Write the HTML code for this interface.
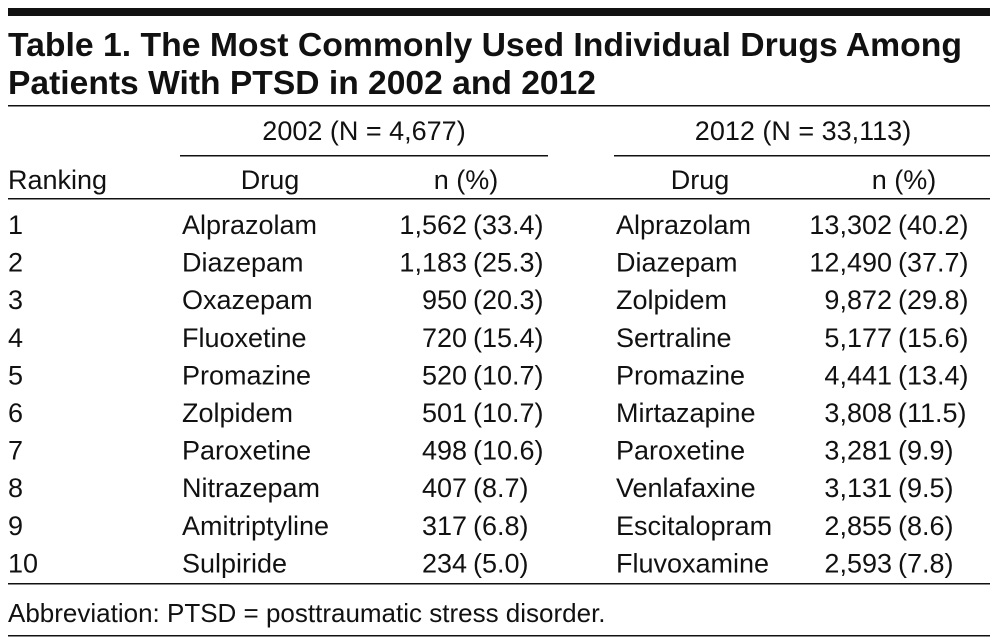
<!DOCTYPE html>
<html><head><meta charset="utf-8"><style>
html,body{margin:0;padding:0;background:#fff;}
svg{display:block;font-family:"Liberation Sans",sans-serif;}
</style></head><body>
<svg width="998" height="644" viewBox="0 0 998 644">
<rect x="8" y="8" width="982" height="8" fill="#111"/>
<g font-weight="bold" font-size="33" fill="#111">
<text x="8" y="56" textLength="954" lengthAdjust="spacingAndGlyphs">Table 1. The Most Commonly Used Individual Drugs Among</text>
<text x="8" y="94" textLength="588" lengthAdjust="spacingAndGlyphs">Patients With PTSD in 2002 and 2012</text>
</g>
<rect x="8" y="105" width="982" height="1.5" fill="#111"/>
<g font-size="27" fill="#111" id="tbl">
<text x="364" y="140" text-anchor="middle">2002 (N = 4,677)</text>
<text x="803" y="140" text-anchor="middle">2012 (N = 33,113)</text>
<rect x="180" y="155" width="368" height="1.5" fill="#111"/>
<rect x="614" y="155" width="376" height="1.5" fill="#111"/>
<text x="8" y="189">Ranking</text>
<text x="270" y="189" text-anchor="middle">Drug</text>
<text x="466" y="189" text-anchor="middle">n (%)</text>
<text x="700" y="189" text-anchor="middle">Drug</text>
<text x="904" y="189" text-anchor="middle">n (%)</text>
<rect x="8" y="198" width="982" height="1.5" fill="#111"/>
<rect x="8" y="583" width="982" height="1.5" fill="#111"/>
<text x="8" y="622" font-size="26">Abbreviation: PTSD = posttraumatic stress disorder.</text>
<rect x="8" y="635" width="982" height="1.5" fill="#111"/>
</g>
</svg>
<script>
const drugs2002=["Alprazolam","Diazepam","Oxazepam","Fluoxetine","Promazine","Zolpidem","Paroxetine","Nitrazepam","Amitriptyline","Sulpiride"];
const n2002=["1,562","1,183","950","720","520","501","498","407","317","234"];
const p2002=["(33.4)","(25.3)","(20.3)","(15.4)","(10.7)","(10.7)","(10.6)","(8.7)","(6.8)","(5.0)"];
const drugs2012=["Alprazolam","Diazepam","Zolpidem","Sertraline","Promazine","Mirtazapine","Paroxetine","Venlafaxine","Escitalopram","Fluvoxamine"];
const n2012=["13,302","12,490","9,872","5,177","4,441","3,808","3,281","3,131","2,855","2,593"];
const p2012=["(40.2)","(37.7)","(29.8)","(15.6)","(13.4)","(11.5)","(9.9)","(9.5)","(8.6)","(7.8)"];
const g=document.getElementById('tbl');
const NS="http://www.w3.org/2000/svg";
function t(x,y,s,anchor,name){
 const e=document.createElementNS(NS,'text');
 e.setAttribute('x',x);e.setAttribute('y',y);
 if(anchor)e.setAttribute('text-anchor',anchor);
 e.textContent=s;
 
 
 g.appendChild(e);
}
for(let i=0;i<drugs2002.length;i++){
 const y=234+i*37.6;
 t(8,y,String(i+1),null,'rank-cell');
 t(182,y,drugs2002[i],null,'drug-2002-cell');
 t(467,y,n2002[i],'end','count-2002-cell');
 t(473,y,p2002[i],null,'pct-2002-cell');
 t(616,y,drugs2012[i],null,'drug-2012-cell');
 t(892,y,n2012[i],'end','count-2012-cell');
 t(898,y,p2012[i],null,'pct-2012-cell');
}
</script>
</body></html>
